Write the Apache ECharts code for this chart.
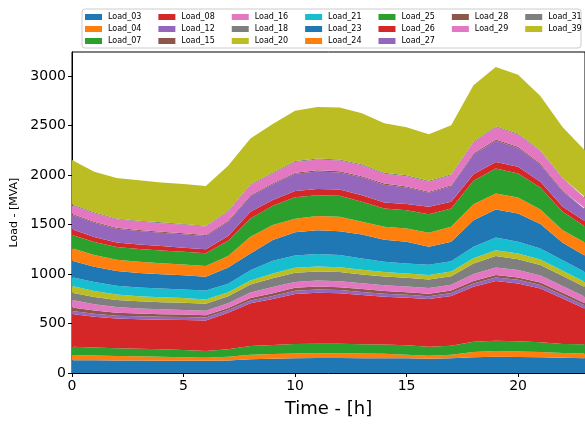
<!DOCTYPE html>
<html>
<head>
<meta charset="utf-8">
<script src="https://cdn.jsdelivr.net/npm/echarts@6/dist/echarts.min.js"></script>
<style>html,body{margin:0;padding:0;background:#fff;}#c{width:585px;height:425px;}</style>
</head>
<body>
<div id="c"></div>
<script>
const hours = [0,1,2,3,4,5,6,7,8,9,10,11,12,13,14,15,16,17,18,19,20,21,22,23];
const xTicks = [0,5,10,15,20];
const yTicks = [0,500,1000,1500,2000,2500,3000];

const L03 = [130,129,127,126,125,125,125,126,140,145,150,152,152,150,150,150,145,150,160,165,163,160,155,150];
const L04 = [52,48,45,43,40,35,30,38,45,48,47,47,47,46,45,35,30,35,52,57,55,52,48,47];
const L07 = [84,80,78,76,75,73,68,76,88,90,96,96,96,94,93,95,91,90,103,105,102,100,90,93];
const L08 = [330,312,300,298,298,303,308,369,431,464,505,516,510,498,483,480,481,503,557,602,586,543,461,360];
const L12 = [30,30,30,30,30,31,30,27,30,32,33,33,33,32,31,31,30,30,34,37,36,35,33,32];
const L15 = [37,33,30,28,27,25,24,22,25,28,30,30,30,29,27,26,25,25,25,24,24,24,24,24];
const L16 = [74,64,56,52,50,46,44,48,55,62,60,60,60,58,58,58,58,60,70,77,74,72,68,65];
const L18 = [74,73,72,72,71,71,70,70,80,88,92,92,92,90,88,87,86,86,105,115,110,106,102,98];
const L20 = [68,60,55,52,50,48,45,40,40,48,50,50,50,48,46,45,45,46,55,60,58,55,53,50];
const L21 = [90,90,88,88,88,88,90,85,105,129,124,126,122,113,104,101,104,105,115,129,119,112,106,101];
const L23 = [167,156,150,147,145,142,140,165,170,210,235,242,242,241,223,218,181,197,269,282,286,246,177,165];
const L24 = [125,118,113,112,111,110,108,118,168,152,138,142,145,130,130,135,141,151,162,162,161,148,127,135];
const L25 = [135,132,130,130,129,128,128,152,185,195,216,212,212,202,185,185,189,185,236,252,243,222,186,160];
const L26 = [57,50,46,45,44,42,40,50,68,57,64,61,64,67,60,62,74,68,67,67,67,58,50,55];
const L27 = [146,143,138,137,136,135,135,142,158,160,173,179,173,180,181,166,141,157,197,214,190,173,157,120];
const L28 = [10,10,10,10,10,10,10,10,10,10,12,12,12,12,12,11,11,11,12,12,12,12,11,10];
const L29 = [88,87,86,86,86,86,86,92,100,100,109,108,108,111,98,105,101,101,111,125,125,125,117,105];
const L31 = [9,9,8,8,8,8,8,9,10,10,10,10,10,10,10,10,10,10,10,10,10,10,10,10];
const L39 = [446,411,410,408,404,404,401,455,462,488,508,522,525,515,501,484,471,495,569,599,593,547,510,470];

const seriesNames = ['Load_03','Load_04','Load_07','Load_08','Load_12','Load_15','Load_16','Load_18','Load_20','Load_21','Load_23','Load_24','Load_25','Load_26','Load_27','Load_28','Load_29','Load_31','Load_39'];
const seriesValues = [L03,L04,L07,L08,L12,L15,L16,L18,L20,L21,L23,L24,L25,L26,L27,L28,L29,L31,L39];
const palette = ['#1f77b4','#ff7f0e','#2ca02c','#d62728','#9467bd','#8c564b','#e377c2','#7f7f7f','#bcbd22','#17becf'];

const legendRows = [
  ['Load_03','Load_08','Load_16','Load_21','Load_25','Load_28','Load_31'],
  ['Load_04','Load_12','Load_18','Load_23','Load_26','Load_29','Load_39'],
  ['Load_07','Load_15','Load_20','Load_24','Load_27']
];
const legendTops = [13, 25, 37];

const FONT = 'DejaVu Sans';
const chart = echarts.init(document.getElementById('c'), null, {renderer:'canvas'});

const series = seriesNames.map((n, k) => ({
  name: n,
  type: 'line',
  stack: 'total',
  symbol: 'none',
  showSymbol: false,
  silent: true,
  data: seriesValues[k],
  lineStyle: {width: 0, color: palette[k % 10]},
  itemStyle: {color: palette[k % 10]},
  areaStyle: {color: palette[k % 10], opacity: 1},
  emphasis: {disabled: true}
}));

const legends = legendRows.map((row, r) => ({
  data: row.map(n => ({name: n, icon: 'rect'})),
  orient: 'horizontal',
  left: 85,
  top: legendTops[r],
  padding: 0,
  itemWidth: 17,
  itemHeight: 6,
  itemGap: 17,
  selectedMode: false,
  z: 5,
  textStyle: {fontFamily: FONT, fontSize: 8, color: '#000', padding: [0,0,0,1]}
}));

chart.setOption({
  animation: false,
  backgroundColor: '#fff',
  graphic: [{
    type: 'rect', z: 1, silent: true,
    shape: {x: 82, y: 9, width: 499, height: 39, r: 3},
    style: {fill: '#fff', stroke: '#cccccc', lineWidth: 1}
  }],
  legend: legends,
  grid: {left: 72, top: 52, width: 518, height: 321, show: true, borderColor: '#000', borderWidth: 1, backgroundColor: 'transparent', containLabel: false},
  xAxis: {
    type: 'category', data: hours, boundaryGap: false,
    name: 'Time - [h]', nameLocation: 'middle', nameGap: 27,
    nameTextStyle: {fontFamily: FONT, fontSize: 18, color: '#000'},
    axisLine: {show: true, lineStyle: {color: '#000', width: 1}},
    axisTick: {show: true, length: 4, lineStyle: {color: '#000'},
      interval: (i, v) => xTicks.indexOf(Number(v)) >= 0},
    axisLabel: {fontFamily: FONT, fontSize: 14, color: '#000', margin: 6,
      interval: (i, v) => xTicks.indexOf(Number(v)) >= 0},
    splitLine: {show: false}
  },
  yAxis: {
    type: 'value', min: 0, max: 3245, interval: 500,
    name: 'Load - [MVA]', nameLocation: 'middle', nameGap: 43, nameRotate: 90,
    nameTextStyle: {fontFamily: FONT, fontSize: 11, color: '#000'},
    axisLine: {show: true, lineStyle: {color: '#000', width: 1}},
    axisTick: {show: true, length: 4, lineStyle: {color: '#000'}, customValues: yTicks},
    axisLabel: {fontFamily: FONT, fontSize: 14, color: '#000', margin: 6, customValues: yTicks,
      formatter: v => yTicks.indexOf(v) >= 0 ? String(v) : ''},
    splitLine: {show: false}
  },
  series: series
});
</script>
</body>
</html>
